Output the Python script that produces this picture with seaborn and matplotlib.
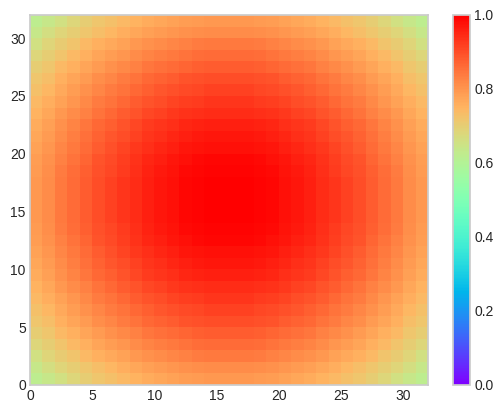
import numpy as np
import seaborn as sns
import matplotlib.pyplot as plt
from matplotlib.transforms import ScaledTranslation

# lower-left quarter of the map (the map is mirrored both ways)
quarter = [
    [.620, .640, .660, .680, .700, .715, .727, .739, .751, .763, .771, .779, .787, .791, .795, .795],
    [.640, .664, .685, .701, .717, .734, .746, .758, .770, .782, .791, .799, .807, .811, .815, .815],
    [.660, .685, .706, .722, .739, .756, .769, .781, .794, .806, .815, .823, .832, .836, .840, .840],
    [.680, .701, .722, .740, .757, .774, .787, .800, .813, .826, .834, .843, .851, .856, .860, .860],
    [.700, .717, .739, .757, .774, .792, .805, .818, .832, .845, .854, .862, .871, .876, .880, .880],
    [.715, .734, .756, .774, .792, .810, .824, .837, .851, .864, .873, .882, .891, .896, .900, .900],
    [.727, .746, .769, .787, .805, .824, .837, .851, .865, .878, .888, .897, .906, .910, .915, .915],
    [.739, .758, .781, .800, .818, .837, .851, .865, .879, .893, .902, .911, .921, .925, .930, .930],
    [.751, .770, .794, .813, .832, .851, .865, .879, .893, .907, .917, .926, .936, .940, .945, .945],
    [.763, .782, .806, .826, .845, .864, .878, .893, .907, .922, .931, .941, .950, .955, .960, .960],
    [.771, .791, .815, .834, .854, .873, .888, .902, .917, .931, .941, .951, .960, .965, .970, .970],
    [.779, .799, .823, .843, .862, .882, .897, .911, .926, .941, .951, .960, .970, .975, .980, .980],
    [.787, .807, .832, .851, .871, .891, .906, .921, .936, .950, .960, .970, .980, .985, .990, .990],
    [.791, .811, .836, .856, .876, .896, .910, .925, .940, .955, .965, .975, .985, .990, .995, .995],
    [.795, .815, .840, .860, .880, .900, .915, .930, .945, .960, .970, .980, .990, .995, 1.00, 1.00],
    [.795, .815, .840, .860, .880, .900, .915, .930, .945, .960, .970, .980, .990, .995, 1.00, 1.00],
]
x_ticks = [0, 5, 10, 15, 20, 25, 30]
y_ticks = [0, 5, 10, 15, 20, 25, 30]
cbar_ticks = [0.0, 0.2, 0.4, 0.6, 0.8, 1.0]

# Rebuild the full 32x32 grid from the quarter
q = np.array(quarter)
top = np.hstack([q, q[:, ::-1]])
grid = np.vstack([top, top[::-1]])

sns.set_style("whitegrid")
plt.rcParams['font.family'] = ['Liberation Sans', 'DejaVu Sans']
plt.rcParams['ytick.alignment'] = 'center'

fig = plt.figure(figsize=(5.04, 4.13), dpi=100)
ax = fig.add_axes([30 / 504, 1 - 385 / 413, 398 / 504, 370 / 413])
cax = fig.add_axes([453 / 504, 1 - 385 / 413, 17 / 504, 370 / 413])

sns.heatmap(grid, ax=ax, cbar_ax=cax, cmap='rainbow', vmin=0, vmax=1,
            cbar_kws={'ticks': cbar_ticks})

# heatmap flips y and centres the ticks, put both back
ax.invert_yaxis()
ax.set_xticks(x_ticks)
ax.set_xticklabels(x_ticks, rotation=0)
ax.set_yticks(y_ticks)
ax.set_yticklabels(y_ticks, rotation=0, va='center')
ax.tick_params(length=0, labelsize=10, colors='.15', pad=3)
cax.tick_params(length=0, labelsize=10, colors='.15', pad=3)
cax.set_yticklabels([f'{t:.1f}' for t in cbar_ticks], va='center')

# labels sit a touch lower in the original
nudge = ScaledTranslation(0, -1.5 / 100, fig.dpi_scale_trans)
for label in ax.get_yticklabels() + cax.get_yticklabels():
    label.set_transform(label.get_transform() + nudge)

for spine in ax.spines.values():
    spine.set_visible(True)
    spine.set_color('.8')
    spine.set_linewidth(1.25)
cbar = ax.collections[0].colorbar
cbar.outline.set_visible(True)
cbar.outline.set_edgecolor('.8')
cbar.outline.set_linewidth(1.25)

fig.savefig('out.png', dpi=100)
